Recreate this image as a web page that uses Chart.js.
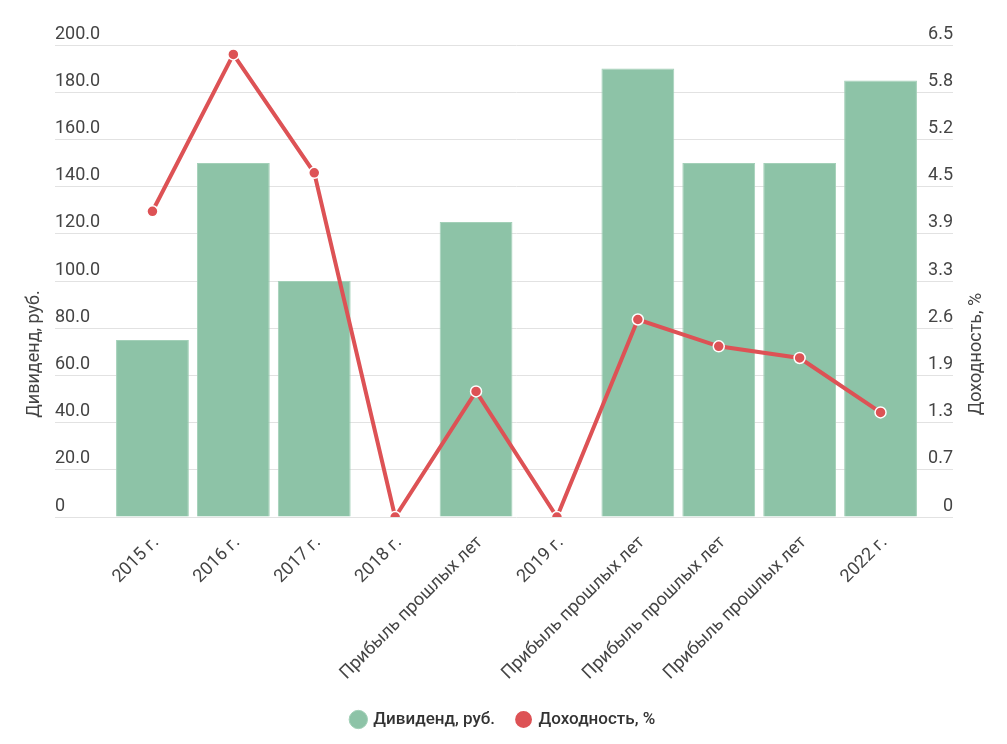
<!DOCTYPE html>
<html lang="ru">
<head>
<meta charset="utf-8">
<title>Дивиденды</title>
<script src="https://cdn.jsdelivr.net/npm/chart.js@4/dist/chart.umd.min.js"></script>
<style>
  html, body { margin: 0; padding: 0; background: #fff; }
  #wrap { width: 1007px; height: 744px; position: relative; }
</style>
</head>
<body>
<div id="wrap"><canvas id="chart"></canvas></div>
<script>
// ── Data ──────────────────────────────────────────────────────────────────────
const categories = [
  '2015 г.', '2016 г.', '2017 г.', '2018 г.', 'Прибыль прошлых лет',
  '2019 г.', 'Прибыль прошлых лет', 'Прибыль прошлых лет', 'Прибыль прошлых лет', '2022 г.',
];
const dividends = [75, 150, 100, 0, 125, 0, 190, 150, 150, 185];
const yields    = [4.21, 6.37, 4.74, 0, 1.73, 0, 2.72, 2.35, 2.19, 1.44];

const DIV_LABEL   = 'Дивиденд, руб.';
const YIELD_LABEL = 'Доходность, %';

// ── Style ─────────────────────────────────────────────────────────────────────
const FONT       = 'Roboto';
const TEXT_COLOR = '#444444';
const GRID_COLOR = '#e2e2e2';
const BAR_COLOR  = '#8dc3a7';
const LINE_COLOR = '#dd5255';

const fmtTick = v => (v === 0 ? '0' : v.toFixed(1));

// axis titles sit at the middle of the whole drawing, not the plot area
const axisTitles = {
  id: 'axisTitles',
  afterDraw(chart) {
    const { ctx } = chart;
    const y = 354;
    ctx.save();
    ctx.font = `18px ${FONT}`;
    ctx.fillStyle = TEXT_COLOR;
    ctx.textAlign = 'center';
    ctx.textBaseline = 'middle';
    [[DIV_LABEL, 34], [YIELD_LABEL, 976]].forEach(([text, x]) => {
      ctx.save();
      ctx.translate(x, y);
      ctx.rotate(-Math.PI / 2);
      ctx.fillText(text, 0, 0);
      ctx.restore();
    });
    ctx.restore();
  },
};

Chart.defaults.font.family = FONT;
Chart.defaults.color = TEXT_COLOR;

new Chart(document.getElementById('chart'), {
  data: {
    labels: categories,
    datasets: [
      {
        type: 'bar',
        label: DIV_LABEL,
        data: dividends,
        yAxisID: 'y',
        backgroundColor: BAR_COLOR,
        borderColor: '#a3d0b8',
        borderWidth: 1,
        barPercentage: 0.9,
        categoryPercentage: 1,
        order: 2,
      },
      {
        type: 'line',
        label: YIELD_LABEL,
        data: yields,
        yAxisID: 'y1',
        borderColor: LINE_COLOR,
        backgroundColor: LINE_COLOR,
        borderWidth: 4,
        pointRadius: 5.5,
        pointBorderColor: '#ffffff',
        pointBorderWidth: 1.5,
        pointBackgroundColor: LINE_COLOR,
        tension: 0,
        order: 1,
      },
    ],
  },
  options: {
    responsive: true,
    maintainAspectRatio: false,
    animation: false,
    layout: { padding: { top: 45, left: 0, right: 0, bottom: 6 } },
    plugins: {
      tooltip: { enabled: false },
      legend: {
        position: 'bottom',
        labels: {
          usePointStyle: true,
          pointStyle: 'circle',
          boxWidth: 13,
          boxHeight: 13,
          padding: 22,
          color: '#333333',
          font: { size: 17, weight: '500' },
          sort: (a, b) => a.datasetIndex - b.datasetIndex,
        },
      },
    },
    scales: {
      x: {
        grid: { display: false, drawTicks: false },
        border: { display: false },
        ticks: {
          maxRotation: 45,
          minRotation: 45,
          autoSkip: false,
          padding: 15,
          labelOffset: 4,
          color: TEXT_COLOR,
          font: { size: 18 },
        },
        afterFit: s => { s.height = 172; },
      },
      y: {
        position: 'left',
        min: 0,
        max: 200,
        grid: { color: GRID_COLOR, tickLength: 57, tickColor: GRID_COLOR },
        border: { display: false },
        ticks: {
          stepSize: 20,
          mirror: true,
          padding: -57,
          labelOffset: -11,
          color: TEXT_COLOR,
          font: { size: 18 },
          callback: fmtTick,
        },
        afterFit: s => { s.width = 112; },
      },
      y1: {
        position: 'right',
        min: 0,
        max: 6.5,
        grid: { drawOnChartArea: false, color: GRID_COLOR, tickLength: 32, tickColor: GRID_COLOR },
        border: { display: false },
        ticks: {
          stepSize: 0.65,
          mirror: true,
          padding: 32,
          labelOffset: -11,
          color: TEXT_COLOR,
          font: { size: 18 },
          callback: fmtTick,
        },
        afterFit: s => { s.width = 86; },
      },
    },
  },
  plugins: [axisTitles],
});
</script>
</body>
</html>
